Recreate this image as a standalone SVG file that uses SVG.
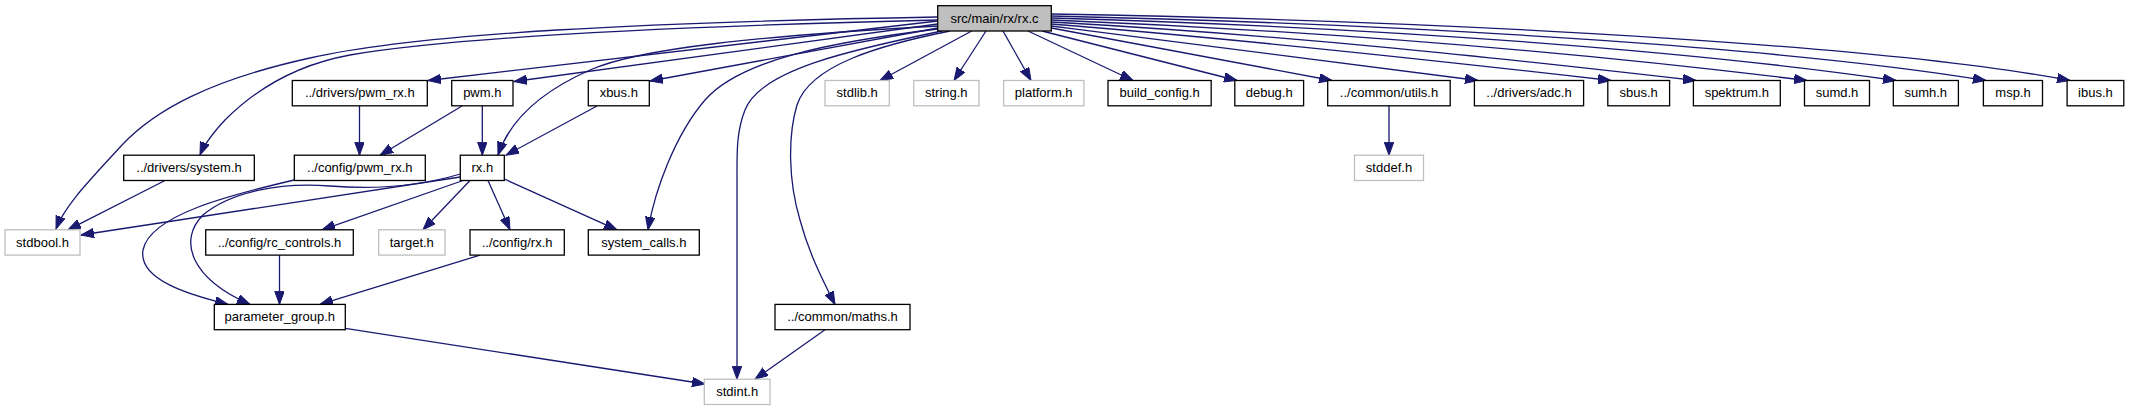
<svg xmlns="http://www.w3.org/2000/svg" width="2129" height="411" viewBox="0 0 2129 411">
<defs>
<style>
.n rect{fill:#ffffff;stroke:#000000;stroke-width:1.3}
.g rect{fill:#ffffff;stroke:#bfbfbf;stroke-width:1.3}
.r rect{fill:#bfbfbf;stroke:#000000;stroke-width:1.3}
text{font-family:"Liberation Sans",Arial,sans-serif;font-size:13px;fill:#000000;text-anchor:middle}
.e path{fill:none;stroke:#191970;stroke-width:1.3}
</style>
<marker id="a" markerWidth="14" markerHeight="10" refX="13" refY="4.75" orient="auto" markerUnits="userSpaceOnUse">
<path d="M0,0 L13,4.75 L0,9.5 z" fill="#191970" stroke="#191970" stroke-width="1"/>
</marker>
</defs>
<rect width="2129" height="411" fill="#ffffff"/>
<g id="connectors" class="e">
<path marker-end="url(#a)" d="M937.7,17 C650,22 420,33 310,58 C210,80 155,110 122,145 C90,180 65,205 56,229"/>
<path marker-end="url(#a)" d="M937.7,20 C650,27 450,38 350,55 C290,66 250,95 225,120 C212,134 204,145 200,155"/>
<path marker-end="url(#a)" d="M937.7,21 L428,80.5"/>
<path marker-end="url(#a)" d="M937.7,24 L514,81.5"/>
<path marker-end="url(#a)" d="M937.7,26 C760,36 640,48 590,70 C540,92 510,120 498,155"/>
<path marker-end="url(#a)" d="M937.7,28 L650,81"/>
<path marker-end="url(#a)" d="M937.7,29 C830,42 740,60 705,100 C675,135 655,190 648,229.8"/>
<path marker-end="url(#a)" d="M942,31 C850,50 760,70 745,110 C737,130 737,150 737,170 L737,379.2"/>
<path marker-end="url(#a)" d="M950,31 C880,45 810,65 797,105 C788,135 788,180 800,220 C808,250 820,275 835,304.4"/>
<path marker-end="url(#a)" d="M971.7,31 L880,80.5"/>
<path marker-end="url(#a)" d="M986,31 L954,80.5"/>
<path marker-end="url(#a)" d="M1003,31 L1031,80.5"/>
<path marker-end="url(#a)" d="M1028,31 L1133,80.5"/>
<path marker-end="url(#a)" d="M1042,31 L1237,80.5"/>
<path marker-end="url(#a)" d="M1051.3,28 L1332,80.5"/>
<path marker-end="url(#a)" d="M1051.3,26 C1200,45 1350,63 1478,80.5"/>
<path marker-end="url(#a)" d="M1051.3,24 C1250,40 1450,62 1611,80.5"/>
<path marker-end="url(#a)" d="M1051.3,22 C1300,36 1500,58 1696,80.5"/>
<path marker-end="url(#a)" d="M1051.3,20 C1350,32 1600,55 1807,80.5"/>
<path marker-end="url(#a)" d="M1051.3,18 C1400,28 1700,52 1896,80.5"/>
<path marker-end="url(#a)" d="M1051.3,16 C1450,25 1800,50 1986,80.5"/>
<path marker-end="url(#a)" d="M1051.3,14 C1500,22 1900,48 2070,80.5"/>
<path marker-end="url(#a)" d="M359.5,105.8 L359.5,155.2"/>
<path marker-end="url(#a)" d="M462,106 L380,155.2"/>
<path marker-end="url(#a)" d="M482.3,105.8 L482.3,155.2"/>
<path marker-end="url(#a)" d="M597,106 L506,155.2"/>
<path marker-end="url(#a)" d="M1389,105.8 L1389,155.2"/>
<path marker-end="url(#a)" d="M165,180.5 L68,229.8"/>
<path marker-end="url(#a)" d="M460.3,177 L81,235"/>
<path marker-end="url(#a)" d="M463,180.5 L322,229.8"/>
<path marker-end="url(#a)" d="M470,180.5 L423,229.8"/>
<path marker-end="url(#a)" d="M488,180.5 L510,229.8"/>
<path marker-end="url(#a)" d="M504.3,179 L617,229.8"/>
<path marker-end="url(#a)" d="M294.3,180 C230,195 150,215 143,250 C138,280 190,295 228,304.4"/>
<path marker-end="url(#a)" d="M460.3,174 C420,186 380,190 330,186 C280,182 230,192 203,215 C178,240 190,278 250,304.4"/>
<path marker-end="url(#a)" d="M279.5,255.1 L279.5,304.4"/>
<path marker-end="url(#a)" d="M480,255.1 L320,304.4"/>
<path marker-end="url(#a)" d="M345.3,328.3 L705,384"/>
<path marker-end="url(#a)" d="M825,329.7 L755,379.2"/>
</g>
<g id="node-root" class="r"><rect x="937.7" y="5.7" width="113.6" height="25.3"/><text x="994.5" y="22.6">src/main/rx/rx.c</text></g>
<g id="node-drivers-pwm-rx" class="n"><rect x="292.3" y="80.5" width="135" height="25.3"/><text x="359.8" y="97.4">../drivers/pwm_rx.h</text></g>
<g id="node-pwm" class="n"><rect x="451.7" y="80.5" width="61.3" height="25.3"/><text x="482.3" y="97.4">pwm.h</text></g>
<g id="node-xbus" class="n"><rect x="588.3" y="80.5" width="61" height="25.3"/><text x="618.8" y="97.4">xbus.h</text></g>
<g id="node-stdlib" class="g"><rect x="825" y="80.5" width="64.3" height="25.3"/><text x="857.2" y="97.4">stdlib.h</text></g>
<g id="node-string" class="g"><rect x="913.7" y="80.5" width="65.3" height="25.3"/><text x="946.3" y="97.4">string.h</text></g>
<g id="node-platform" class="g"><rect x="1003.6" y="80.5" width="80.3" height="25.3"/><text x="1043.7" y="97.4">platform.h</text></g>
<g id="node-build-config" class="n"><rect x="1108" y="80.5" width="103.2" height="25.3"/><text x="1159.6" y="97.4">build_config.h</text></g>
<g id="node-debug" class="n"><rect x="1234.8" y="80.5" width="68.8" height="25.3"/><text x="1269.2" y="97.4">debug.h</text></g>
<g id="node-utils" class="n"><rect x="1327.7" y="80.5" width="122.5" height="25.3"/><text x="1389" y="97.4">../common/utils.h</text></g>
<g id="node-adc" class="n"><rect x="1474.4" y="80.5" width="109.2" height="25.3"/><text x="1529" y="97.4">../drivers/adc.h</text></g>
<g id="node-sbus" class="n"><rect x="1607.8" y="80.5" width="61.8" height="25.3"/><text x="1638.7" y="97.4">sbus.h</text></g>
<g id="node-spektrum" class="n"><rect x="1693.4" y="80.5" width="86.9" height="25.3"/><text x="1736.8" y="97.4">spektrum.h</text></g>
<g id="node-sumd" class="n"><rect x="1804.5" y="80.5" width="65" height="25.3"/><text x="1837" y="97.4">sumd.h</text></g>
<g id="node-sumh" class="n"><rect x="1893.3" y="80.5" width="65.1" height="25.3"/><text x="1925.8" y="97.4">sumh.h</text></g>
<g id="node-msp" class="n"><rect x="1983.4" y="80.5" width="59.1" height="25.3"/><text x="2013" y="97.4">msp.h</text></g>
<g id="node-ibus" class="n"><rect x="2067.1" y="80.5" width="56.7" height="25.3"/><text x="2095.4" y="97.4">ibus.h</text></g>
<g id="node-drivers-system" class="n"><rect x="123.7" y="155.2" width="130.6" height="25.3"/><text x="189" y="172.1">../drivers/system.h</text></g>
<g id="node-config-pwm-rx" class="n"><rect x="294.3" y="155.2" width="131" height="25.3"/><text x="359.8" y="172.1">../config/pwm_rx.h</text></g>
<g id="node-rx" class="n"><rect x="460.3" y="155.2" width="44" height="25.3"/><text x="482.3" y="172.1">rx.h</text></g>
<g id="node-stddef" class="g"><rect x="1354.5" y="155.2" width="69" height="25.3"/><text x="1389" y="172.1">stddef.h</text></g>
<g id="node-stdbool" class="g"><rect x="5" y="229.8" width="75" height="25.3"/><text x="42.5" y="246.7">stdbool.h</text></g>
<g id="node-rc-controls" class="n"><rect x="205.7" y="229.8" width="147.6" height="25.3"/><text x="279.5" y="246.7">../config/rc_controls.h</text></g>
<g id="node-target" class="g"><rect x="378.7" y="229.8" width="66.3" height="25.3"/><text x="411.8" y="246.7">target.h</text></g>
<g id="node-config-rx" class="n"><rect x="470" y="229.8" width="94.3" height="25.3"/><text x="517.1" y="246.7">../config/rx.h</text></g>
<g id="node-system-calls" class="n"><rect x="588.3" y="229.8" width="111" height="25.3"/><text x="643.8" y="246.7">system_calls.h</text></g>
<g id="node-parameter-group" class="n"><rect x="214.3" y="304.4" width="131" height="25.3"/><text x="279.8" y="321.3">parameter_group.h</text></g>
<g id="node-maths" class="n"><rect x="775" y="304.4" width="135" height="25.3"/><text x="842.5" y="321.3">../common/maths.h</text></g>
<g id="node-stdint" class="g"><rect x="704.3" y="379.2" width="65.7" height="25.3"/><text x="737.2" y="396.1">stdint.h</text></g>
</svg>
